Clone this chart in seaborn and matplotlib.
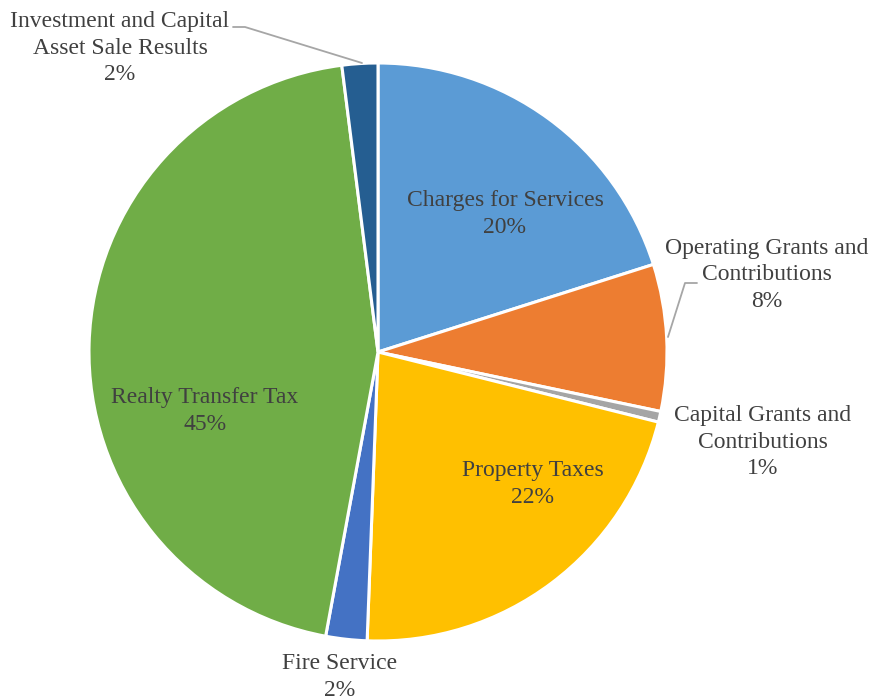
import matplotlib
matplotlib.use("Agg")
import matplotlib.pyplot as plt
import seaborn as sns

# Dados (percentual da receita)
categorias = [
    "Charges for Services",
    "Operating Grants and\nContributions",
    "Capital Grants and\nContributions",
    "Property Taxes",
    "Fire Service",
    "Realty Transfer Tax",
    "Investment and Capital\nAsset Sale Results",
]
valores = [20.1, 8.2, 0.6, 21.7, 2.3, 45.1, 2.0]
cores = ["#5B9BD5", "#ED7D31", "#A5A5A5", "#FFC000", "#4472C4", "#70AD47", "#255E91"]

# Posição dos rótulos (pixels da imagem, origem no topo)
pos_rotulos = [(505, 214), (767, 275), (763, 442), (533, 484),
               (340, 677), (205, 411), (120, 48)]

sns.set_theme(style="white")
plt.rcParams["font.family"] = ["Liberation Serif", "DejaVu Serif"]

W, H = 874, 700
fig = plt.figure(figsize=(W / 100, H / 100), dpi=100)
ax = fig.add_axes([0, 0, 1, 1])

ax.pie(
    valores, colors=sns.color_palette(cores), startangle=90, counterclock=False,
    center=(378, H - 352), radius=289,
    wedgeprops={"edgecolor": "white", "linewidth": 2.2},
)
ax.set_xlim(0, W)
ax.set_ylim(0, H)
ax.set_aspect("equal")
ax.axis("off")

COR_TEXTO = "#404040"
for cat, val, (px, py) in zip(categorias, valores, pos_rotulos):
    ax.text(px, H - py, f"{cat}\n{round(val):.0f}%", ha="center", va="center",
            fontsize=17, color=COR_TEXTO, linespacing=1.35)

# Linhas de chamada
ax.plot([233, 245, 362], [H - 27, H - 27, H - 63], color="#A6A6A6", lw=1.3)
ax.plot([697, 685, 668], [H - 283, H - 283, H - 337], color="#A6A6A6", lw=1.3)

fig.savefig("out.png", dpi=100)
